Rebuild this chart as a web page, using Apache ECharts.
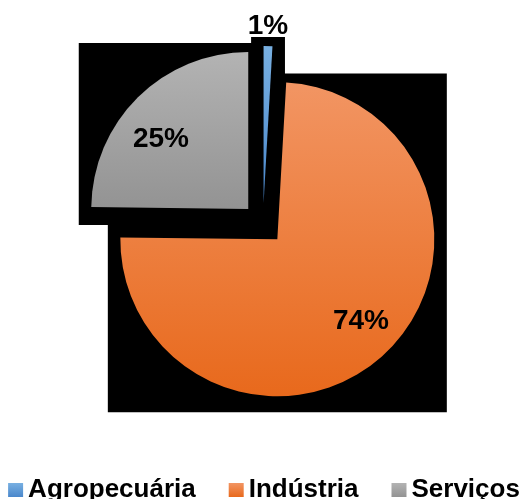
<!DOCTYPE html>
<html>
<head>
<meta charset="utf-8">
<script src="https://cdn.jsdelivr.net/npm/echarts@6/dist/echarts.min.js"></script>
<style>
html, body { margin: 0; padding: 0; background: #fff; }
#main { width: 528px; height: 499px; }
</style>
</head>
<body>
<div id="main"></div>
<script>
// dados
var sectors = ["Agropecuária", "Indústria", "Serviços"];
var shares = [0.9, 74.3, 24.8];
var topColors = ["#78b0e2", "#f29563", "#b3b3b3"];
var bottomColors = ["#4a87cb", "#e8691c", "#939393"];
// ajuste fino do rótulo em relação à posição interna
var labelNudge = [[2, -95], [28, 22], [-30, -12]];

var cx = 263, cy = 224, R = 157, explode = 21;
var FONT = "'Liberation Sans', Arial, sans-serif";

// sombra preta: caixa de cada fatia (como no Excel)
function sectorBox(a0, a1) {
  var mid = (a0 + a1) / 2 * Math.PI / 180;
  var ox = cx + explode * Math.sin(mid), oy = cy - explode * Math.cos(mid);
  var pts = [[ox, oy]];
  var angs = [a0, a1];
  [0, 90, 180, 270, 360].forEach(function (a) {
    if (a > a0 && a < a1) angs.push(a);
  });
  angs.forEach(function (a) {
    var t = a * Math.PI / 180;
    pts.push([ox + R * Math.sin(t), oy - R * Math.cos(t)]);
  });
  var xs = pts.map(function (p) { return p[0]; });
  var ys = pts.map(function (p) { return p[1]; });
  var x0 = Math.min.apply(Math, xs), x1 = Math.max.apply(Math, xs);
  var y0 = Math.min.apply(Math, ys), y1 = Math.max.apply(Math, ys);
  return { x: x0 - 12.5, y: y0 - 9, width: x1 - x0 + 25, height: y1 - y0 + 25 };
}

var total = shares.reduce(function (s, v) { return s + v; }, 0);
var shadows = [];
var acc = 0;
shares.forEach(function (v) {
  var a0 = acc / total * 360;
  acc += v;
  var a1 = acc / total * 360;
  shadows.push({
    type: "rect",
    z: 0,
    silent: true,
    shape: sectorBox(a0, a1),
    style: { fill: "#000" }
  });
});

var pieData = sectors.map(function (name, i) {
  return {
    name: name,
    value: shares[i],
    selected: true,
    itemStyle: {
      color: {
        type: "linear", x: 0, y: 0, x2: 0, y2: 1,
        colorStops: [
          { offset: 0, color: topColors[i] },
          { offset: 1, color: bottomColors[i] }
        ]
      }
    }
  };
});

var myChart = echarts.init(document.getElementById("main"));
var option = {
  animation: false,
  graphic: shadows,
  legend: {
    data: sectors,
    left: "center",
    top: 472,
    icon: "rect",
    itemWidth: 15,
    itemHeight: 14,
    itemGap: 33,
    textStyle: {
      color: "#000", fontSize: 26, fontWeight: "bold", fontFamily: FONT,
      padding: [0, 0, 4, 0]
    }
  },
  series: [{
    type: "pie",
    center: [cx, cy],
    radius: R,
    startAngle: 90,
    clockwise: true,
    selectedMode: "multiple",
    selectedOffset: explode,
    avoidLabelOverlap: false,
    silent: true,
    itemStyle: { borderWidth: 0 },
    select: { itemStyle: { borderWidth: 0 } },
    label: {
      position: "inside",
      color: "#000",
      fontSize: 28,
      fontWeight: "bold",
      fontFamily: FONT,
      formatter: function (p) { return Math.round(p.percent) + "%"; }
    },
    labelLine: { show: false },
    labelLayout: function (p) {
      var n = labelNudge[p.dataIndex];
      return { dx: n[0], dy: n[1] };
    },
    data: pieData
  }]
};
myChart.setOption(option);
</script>
</body>
</html>
